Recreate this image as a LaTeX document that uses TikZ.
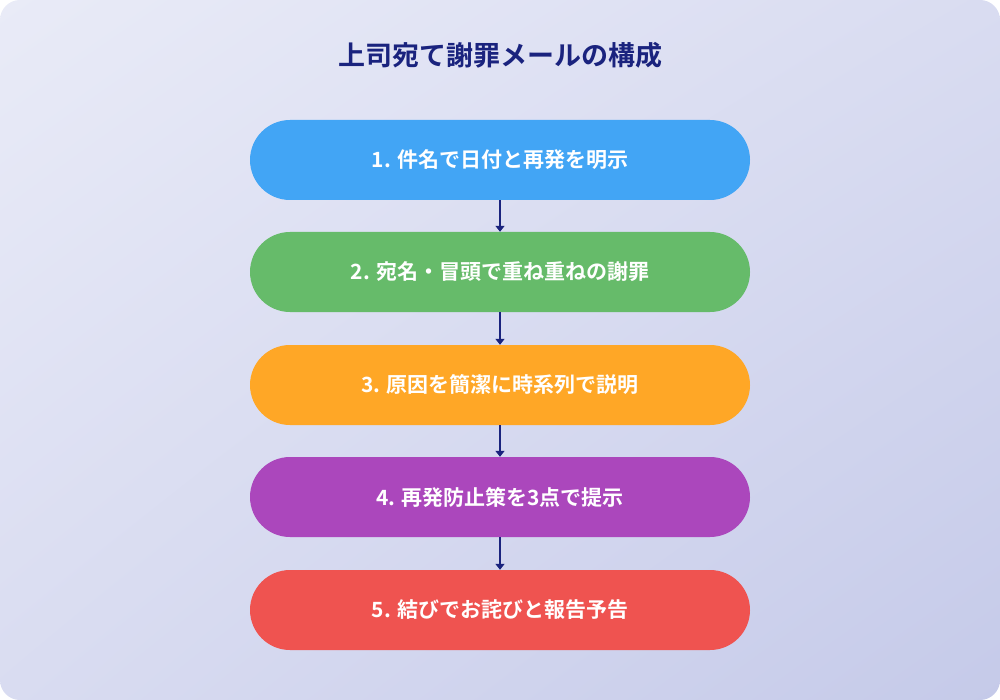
\documentclass[tikz,border=0pt]{standalone}
\usepackage{fontspec}
\newfontfamily\jp{Noto Sans CJK JP Bold}
\usetikzlibrary{arrows.meta,shadings}
\definecolor{navy}{HTML}{1A237E}
\definecolor{bgA}{HTML}{E9EBF7}
\definecolor{bgB}{HTML}{D9DCF1}
\definecolor{bgC}{HTML}{C5CAE9}
\tikzset{stepbox/.style={rounded corners=40pt,minimum width=500pt,minimum height=80pt,text=white,font=\jp\fontsize{21}{25}\selectfont,inner sep=0pt},
arr/.style={draw=navy,line width=2.5pt,-{Triangle[length=6pt,width=9pt]}}}
\begin{document}
\begin{tikzpicture}[x=1pt,y=-1pt]
\useasboundingbox (0,0) rectangle (1000,700);
\shade[rounded corners=20pt,upper left=bgA,upper right=bgB,lower left=bgB,lower right=bgC] (0,0) rectangle (1000,700);
\node[font=\jp\fontsize{27}{32}\selectfont,text=navy] (t) at (500,55) {上司宛て謝罪メールの構成};
\node[stepbox,fill={rgb,255:red,66;green,165;blue,245}] (b1) at (500,160) {1. 件名で日付と再発を明示};
\node[stepbox,fill={rgb,255:red,102;green,187;blue,106}] (b2) at (500,272) {2. 宛名・冒頭で重ね重ねの謝罪};
\node[stepbox,fill={rgb,255:red,255;green,167;blue,38}] (b3) at (500,385) {3. 原因を簡潔に時系列で説明};
\node[stepbox,fill={rgb,255:red,171;green,71;blue,188}] (b4) at (500,497) {4. 再発防止策を3点で提示};
\node[stepbox,fill={rgb,255:red,239;green,83;blue,80}] (b5) at (500,610) {5. 結びでお詫びと報告予告};
\draw[arr] (b1) -- (b2);
\draw[arr] (b2) -- (b3);
\draw[arr] (b3) -- (b4);
\draw[arr] (b4) -- (b5);
\end{tikzpicture}
\end{document}
